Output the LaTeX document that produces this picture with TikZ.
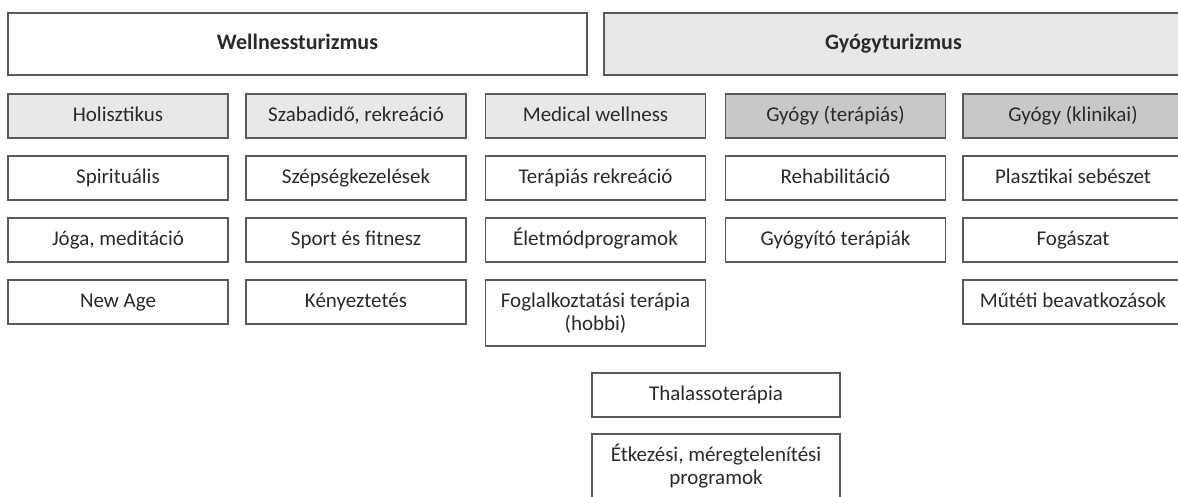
\documentclass[tikz,border=0pt]{standalone}
\usepackage{fontspec}
\setmainfont{Carlito}
\definecolor{txt}{HTML}{2A2A2A}
\definecolor{edge}{HTML}{5A5A5A}
\definecolor{lightfill}{HTML}{E8E8E8}
\definecolor{darkfill}{HTML}{C8C8C8}
\begin{document}
\begin{tikzpicture}[x=1pt,y=-1pt,
  box/.style={draw=edge,line width=1.5pt,fill=white,text=txt,inner sep=0pt,align=center,font=\fontsize{21}{23}\selectfont},
  light/.style={box,fill=lightfill},
  dark/.style={box,fill=darkfill},
  head/.style={box,text height=15pt,text depth=4pt,font=\fontsize{22}{24}\selectfont\bfseries},
  cell/.style={minimum width=220pt,minimum height=44pt,text height=14pt,text depth=4pt}]
\useasboundingbox (0,0) rectangle (1178,496);
\begin{scope}
\clip (0,0) rectangle (1178,496);
% headers
\node[head,minimum width=579pt,minimum height=62pt] (well) at (297.5,44) {Wellnessturizmus};
\node[head,fill=lightfill,minimum width=579pt,minimum height=62pt] (gyogy) at (893.5,44) {Gyógyturizmus};
% row 1
\node[light,cell] (holi) at (118,116) {Holisztikus};
\node[light,cell] (szab) at (356,116) {Szabadidő, rekreáció};
\node[light,cell] (medi) at (595.5,116) {Medical wellness};
\node[dark,cell] (tera) at (835.5,116) {Gyógy (terápiás)};
\node[dark,cell] (klin) at (1073,116) {Gyógy (klinikai)};
% row 2
\node[box,cell] (spir) at (118,178) {Spirituális};
\node[box,cell] (szep) at (356,178) {Szépségkezelések};
\node[box,cell] (trek) at (595.5,178) {Terápiás rekreáció};
\node[box,cell] (reha) at (835.5,178) {Rehabilitáció};
\node[box,cell] (plas) at (1073,178) {Plasztikai sebészet};
% row 3
\node[box,cell] (joga) at (118,240) {Jóga, meditáció};
\node[box,cell] (sport) at (356,240) {Sport és fitnesz};
\node[box,cell] (elet) at (595.5,240) {Életmódprogramok};
\node[box,cell] (gyt) at (835.5,240) {Gyógyító terápiák};
\node[box,cell] (foga) at (1073,240) {Fogászat};
% row 4
\node[box,cell] (newage) at (118,302) {New Age};
\node[box,cell] (keny) at (356,302) {Kényeztetés};
\node[box,minimum width=220pt,minimum height=66pt] (fogl) at (595.5,313) {Foglalkoztatási terápia\\(hobbi)};
\node[box,cell] (mutet) at (1073,302) {Műtéti beavatkozások};
% bottom
\node[box,cell,minimum width=248pt] (thal) at (716,395) {Thalassoterápia};
\node[box,minimum width=248pt,minimum height=64pt] (etk) at (716,466) {Étkezési, méregtelenítési\\programok};
\end{scope}
\end{tikzpicture}
\end{document}
